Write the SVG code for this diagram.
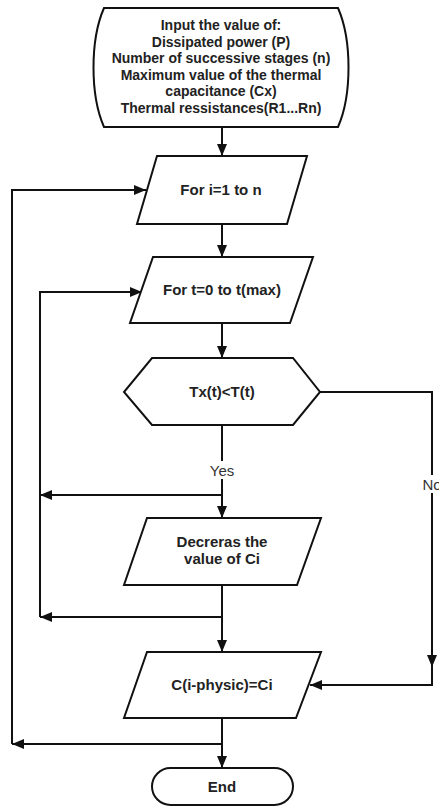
<svg xmlns="http://www.w3.org/2000/svg" width="439" height="807" viewBox="0 0 439 807">
<style>
.node{fill:#fff;stroke:#111;stroke-width:2;stroke-linejoin:miter}
.lbl{font-family:"Liberation Sans",Arial,sans-serif;font-size:15px;font-weight:bold;fill:#222;text-anchor:middle}
.top{font-size:14px}
.edge{fill:none;stroke:#111;stroke-width:2}
.elbl{font-family:"Liberation Sans",Arial,sans-serif;font-size:15px;fill:#333;text-anchor:middle}
</style>
<defs>
<marker id="ah" viewBox="0 0 12 10" refX="12" refY="5" markerWidth="12" markerHeight="10" orient="auto" markerUnits="userSpaceOnUse"><path d="M0,0 L12,5 L0,10 z" fill="#111"/></marker>
</defs>
<rect width="439" height="807" fill="#fff"/>
<g id="connectors">
<path class="edge" d="M222,127 V156" marker-end="url(#ah)"/>
<path class="edge" d="M222,224 V257" marker-end="url(#ah)"/>
<path class="edge" d="M222,323 V358" marker-end="url(#ah)"/>
<path class="edge" d="M222,425 V518" marker-end="url(#ah)"/>
<path class="edge" d="M222,495 H40" marker-end="url(#ah)"/>
<path class="edge" d="M222,585 V652" marker-end="url(#ah)"/>
<path class="edge" d="M222,617 H40" marker-end="url(#ah)"/>
<path class="edge" d="M40,617 V292 H142" marker-end="url(#ah)"/>
<path class="edge" d="M320,392 H432 V667" marker-end="url(#ah)"/>
<path class="edge" d="M432,667 V685 H310" marker-end="url(#ah)"/>
<path class="edge" d="M222,718 V768" marker-end="url(#ah)"/>
<path class="edge" d="M222,744 H12" marker-end="url(#ah)"/>
<path class="edge" d="M12,744 V190 H146" marker-end="url(#ah)"/>
<rect x="207" y="461" width="30" height="18" fill="#fff"/>
<text class="elbl" x="222" y="476">Yes</text>
<rect x="421" y="475" width="18" height="18" fill="#fff"/>
<text class="elbl" x="432" y="490">No</text>
</g>
<g id="input">
<path class="node" d="M104,8 H338 C352,40 352,95 338,127 H104 C90,95 90,40 104,8 Z"/>
<text class="lbl top" x="221" y="30">Input the value of:</text>
<text class="lbl top" x="221" y="46.5">Dissipated power (P)</text>
<text class="lbl top" x="221" y="63">Number of successive stages (n)</text>
<text class="lbl top" x="221" y="79.5">Maximum value of the thermal</text>
<text class="lbl top" x="221" y="96">capacitance (Cx)</text>
<text class="lbl top" x="221" y="112.5">Thermal ressistances(R1...Rn)</text>
</g>
<g id="for-i">
<polygon class="node" points="157,156 307,156 287,224 137,224"/>
<text class="lbl" x="221" y="195">For i=1 to n</text>
</g>
<g id="for-t">
<polygon class="node" points="153,257 313,257 290,323 130,323"/>
<text class="lbl" x="222" y="295">For t=0 to t(max)</text>
</g>
<g id="decision">
<polygon class="node" points="152,358 293,358 320,392 293,425 152,425 124,392"/>
<text class="lbl" x="222" y="397">Tx(t)&lt;T(t)</text>
</g>
<g id="decrease">
<polygon class="node" points="147,518 321,518 297,585 124,585"/>
<text class="lbl" x="222" y="547">Decreras the</text>
<text class="lbl" x="222" y="564">value of Ci</text>
</g>
<g id="assign">
<polygon class="node" points="147,652 321,652 296,718 124,718"/>
<text class="lbl" x="222" y="690">C(i-physic)=Ci</text>
</g>
<g id="end">
<rect class="node" x="152" y="768" width="141" height="37" rx="18.5"/>
<text class="lbl" x="222" y="792">End</text>
</g>
</svg>
